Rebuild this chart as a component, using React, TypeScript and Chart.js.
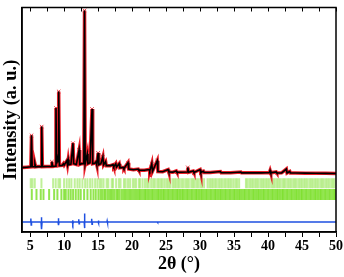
import React, { useEffect, useRef } from "react";
import { Chart, registerables } from "chart.js";

Chart.register(...registerables);

// ---------- data ----------
const xTickValues = [5, 7.5, 10, 12.5, 15, 17.5, 20, 22.5, 25, 27.5, 30, 32.5, 35, 37.5, 40, 42.5, 45, 47.5, 50];

const obsX = [
  3.8, 4.5, 5.1, 5.2, 5.3, 5.6, 5.7, 5.8, 6.2, 6.6, 6.7, 6.8, 7.5, 8.1, 8.2, 8.3, 8.7, 8.8, 8.9, 9.0, 9.1, 9.2, 9.3,
  9.7, 9.9, 10.0, 10.4, 10.5, 10.6, 10.7, 11.0, 11.3, 11.4, 11.8, 12.2, 12.3, 12.6, 12.9, 13.0, 13.1, 13.4, 13.5,
  13.8, 14.1, 14.2, 14.5, 14.7, 14.8, 15.0, 15.1, 15.4, 15.7, 15.8, 16.1, 16.2, 16.8, 17.2, 17.3, 17.6, 17.7, 18.1,
  18.2, 18.7, 18.8, 19.4, 19.5, 20.2, 20.9, 21.0, 21.8, 22.5, 22.6, 22.9, 23.0, 23.7, 23.8, 24.5, 25.3, 25.4, 26.0,
  26.5, 26.6, 27.3, 28.1, 28.2, 28.3, 29.0, 29.1, 30.0, 30.1, 30.5, 30.6, 31.5, 33.0, 33.1, 34.5, 36.0, 36.1, 37.5,
  39.0, 40.2, 40.3, 40.4, 41.2, 41.3, 42.0, 42.7, 42.8, 43.2, 43.3, 44.0, 45.5, 47.0, 48.5, 50.0,
];
const obsY = [
  660, 664, 668, 990, 668, 668, 700, 668, 670, 670, 1080, 670, 671, 672, 720, 672, 675, 1270, 700, 760, 720, 1440, 680,
  682, 700, 685, 730, 690, 740, 690, 695, 910, 700, 692, 840, 692, 700, 700, 2270, 700, 800, 700,
  710, 1260, 700, 705, 720, 690, 810, 690, 700, 770, 688, 720, 680, 680, 690, 670, 700, 665, 700,
  658, 662, 650, 710, 645, 638, 645, 632, 632, 640, 625, 700, 622, 730, 620, 618, 640, 615, 613,
  625, 612, 612, 615, 662, 612, 625, 610, 640, 610, 622, 609, 610, 620, 608, 607, 615, 606, 606,
  606, 610, 630, 606, 615, 605, 606, 645, 605, 620, 604, 605, 603, 602, 601, 600,
];
const calcY = obsY;

const diffX = [
  3.8, 5.05, 5.1, 5.15, 5.2, 6.6, 6.65, 6.7, 6.75, 9.1, 9.15, 9.2, 9.25, 11.2, 11.25, 11.3, 11.35, 12.1, 12.15, 12.2,
  12.25, 12.95, 12.98, 13.02, 13.06, 14.0, 14.05, 14.1, 14.15, 15.0, 15.03, 15.07, 15.1, 16.3, 16.33, 16.37, 16.4,
  23.7, 23.73, 23.77, 23.8, 50.0,
];
const diffY = [
  103, 103, 138, 72, 103, 103, 152, 30, 103, 103, 142, 70, 103, 103, 120, 82, 103, 103, 130, 84,
  103, 103, 190, 40, 103, 103, 136, 80, 103, 103, 118, 90, 103, 103, 113, 95, 103,
  103, 110, 97, 103, 103,
];

const phase1Ticks = [
  5.09, 5.34, 5.68, 6.66, 8.38, 8.76, 9.16, 9.41, 9.99, 10.38, 10.74, 11.07, 11.56, 11.96, 12.29, 12.69, 13.09,
  13.43, 13.82, 14.16, 14.56, 14.9, 15.24, 15.5, 15.8, 16.25, 16.5, 17.0, 17.2, 17.65, 18.05, 18.3, 18.8, 19.05,
  19.4, 19.7, 20.1, 20.35, 20.6, 21.0, 21.2, 21.55, 21.9, 22.2, 22.45, 22.8, 23.1, 23.35, 23.7, 23.95, 24.25, 24.5,
  24.8, 25.1, 25.35, 25.6, 25.95, 26.2, 26.45, 26.75, 27.0, 27.3, 27.55, 27.85, 28.1, 28.35, 28.7, 28.95, 29.2,
  29.5, 29.75, 30.05, 30.3, 30.6, 31.1, 31.4, 31.65, 31.9, 32.2, 32.45, 32.75, 33.0, 33.25, 33.55, 33.8, 34.1,
  34.35, 34.6, 34.9, 35.2, 35.45, 35.75, 36.75, 37.0, 37.3, 37.55, 37.8, 38.1, 38.35, 38.6, 38.9, 39.15, 39.4,
  39.7, 39.95, 40.2, 40.5, 40.75, 41.0, 41.3, 41.55, 41.8, 42.1, 42.35, 42.6, 42.9, 43.15, 43.4, 43.7, 43.95, 44.2,
  44.5, 44.75, 45.0, 45.3, 45.55, 45.8, 46.1, 46.35, 46.6, 46.9, 47.15, 47.4, 47.7, 47.95, 48.2, 48.5, 48.75, 49.0,
  49.3, 49.55, 49.8,
];
const phase2Ticks = [
  5.24, 5.93, 6.56, 6.96, 7.79, 8.53, 9.01, 9.6, 10.0, 10.24, 10.63, 10.97, 11.32, 11.71, 12.1, 12.44, 12.94, 13.43,
  13.91, 14.31, 14.65, 15.04, 15.35, 15.6, 15.9, 16.1, 16.4, 16.65, 16.9, 17.15, 17.4, 17.7, 17.9, 18.15, 18.45,
  18.7, 18.95, 19.2, 19.45, 19.7, 19.95, 20.2, 20.45, 20.7, 20.95, 21.15, 21.4, 21.65, 21.9, 22.1, 22.35, 22.6,
  22.85, 23.05, 23.3, 23.55, 23.8, 24.0, 24.25, 24.5, 24.7, 24.95, 25.2, 25.4, 25.65, 25.9, 26.1, 26.35, 26.6,
  26.8, 27.05, 27.3, 27.5, 27.75, 28.0, 28.2, 28.45, 28.7, 28.9, 29.15, 29.4, 29.6, 29.85, 30.1, 30.3, 30.55,
  30.8, 31.0, 31.25, 31.5, 31.7, 31.95, 32.2, 32.4, 32.65, 32.9, 33.1, 33.35, 33.6, 33.8, 34.05, 34.3, 34.5, 34.75,
  35.0, 35.2, 35.45, 35.7, 35.9, 36.15, 36.4, 36.6, 36.85, 37.1, 37.3, 37.55, 37.8, 38.0, 38.25, 38.5, 38.7,
  38.95, 39.2, 39.4, 39.65, 39.9, 40.1, 40.35, 40.6, 40.8, 41.05, 41.3, 41.5, 41.75, 42.0, 42.2, 42.45, 42.7,
  42.9, 43.15, 43.4, 43.6, 43.85, 44.1, 44.3, 44.55, 44.8, 45.0, 45.25, 45.5, 45.7, 45.95, 46.2, 46.4, 46.65,
  46.9, 47.1, 47.35, 47.6, 47.8, 48.05, 48.3, 48.5, 48.75, 49.0, 49.2, 49.45, 49.7, 49.9,
];
const phase1Level = 500;
const phase2Level = 385;

const FONT = "'Liberation Serif', 'Times New Roman', serif";

const framePlugin = {
  id: "frame",
  afterDatasetsDraw(chart: any) {
    const { ctx, chartArea } = chart;
    const xs = chart.scales.x;
    ctx.save();
    ctx.strokeStyle = "#000";
    ctx.lineWidth = 1.5;
    ctx.strokeRect(chartArea.left, chartArea.top, chartArea.right - chartArea.left, chartArea.bottom - chartArea.top);
    ctx.lineWidth = 1;
    for (const v of xTickValues) {
      const px = Math.round(xs.getPixelForValue(v)) + 0.5;
      ctx.beginPath();
      ctx.moveTo(px, chartArea.top);
      ctx.lineTo(px, chartArea.top + 4);
      ctx.stroke();
    }
    ctx.restore();
  },
};

// show a red cross only where the observed profile forms a clear peak
const peakRadius = (c: any) => {
  const i = c.dataIndex;
  const y = obsY[i];
  const l = i > 0 ? obsY[i - 1] : y;
  const r = i < obsY.length - 1 ? obsY[i + 1] : y;
  return y - l > 40 && y - r > 40 ? 2.5 : 0;
};

export default function App() {
  const ref = useRef<HTMLCanvasElement | null>(null);

  useEffect(() => {
    document.body.style.margin = "0";
    const canvas = ref.current;
    if (!canvas) return;
    const chart = new Chart(canvas, {
      type: "line",
      data: {
        datasets: [
          {
            label: "Calc",
            data: obsX.map((x, i) => ({ x, y: calcY[i] })),
            borderColor: "#000",
            borderWidth: 1.6,
            pointRadius: 0,
            order: 0,
          },
          {
            label: "Obs",
            data: obsX.map((x, i) => ({ x, y: obsY[i] })),
            borderColor: "rgb(235,30,40)",
            borderWidth: 3.5,
            pointStyle: "crossRot",
            pointRadius: peakRadius,
            pointBorderColor: "rgb(240,60,70)",
            pointBorderWidth: 1,
            order: 1,
          },
          {
            label: "Diff",
            data: diffX.map((x, i) => ({ x, y: diffY[i] })),
            borderColor: "rgb(30,80,225)",
            borderWidth: 1.5,
            pointRadius: 0,
            order: 2,
          },
          {
            label: "Phase 1",
            data: phase1Ticks.map((x) => ({ x, y: phase1Level })),
            showLine: false,
            pointStyle: "line",
            rotation: 90,
            pointRadius: 5,
            pointBorderWidth: 2,
            pointBorderColor: "rgba(140,228,70,0.55)",
            order: 3,
          },
          {
            label: "Phase 2",
            data: phase2Ticks.map((x) => ({ x, y: phase2Level })),
            showLine: false,
            pointStyle: "line",
            rotation: 90,
            pointRadius: 5.5,
            pointBorderWidth: 2,
            pointBorderColor: "rgba(110,220,20,0.75)",
            order: 4,
          },
        ] as any,
      },
      options: {
        responsive: false,
        animation: false,
        layout: { padding: { top: 2, right: 8, left: 0, bottom: 0 } },
        plugins: { legend: { display: false }, tooltip: { enabled: false } },
        scales: {
          x: {
            type: "linear",
            min: 3.8,
            max: 50,
            afterBuildTicks: (scale: any) => {
              scale.ticks = xTickValues.map((v) => ({ value: v }));
            },
            afterFit: (scale: any) => {
              scale.height = 45;
            },
            grid: {
              display: true,
              drawOnChartArea: false,
              drawTicks: true,
              tickLength: 5,
              color: "#000",
              lineWidth: 1,
            },
            border: { display: true, color: "#000", width: 1.5 },
            ticks: {
              autoSkip: false,
              maxRotation: 0,
              padding: 1,
              color: "#000",
              font: { family: FONT, size: 14, weight: "bold" },
              callback: (v: any) => (Number(v) % 5 === 0 ? String(v) : ""),
            },
            title: {
              display: true,
              text: "2θ (°)",
              color: "#000",
              font: { family: FONT, size: 18, weight: "bold" },
              padding: { top: 0, bottom: 2 },
            },
          },
          y: {
            type: "linear",
            min: 0,
            max: 2300,
            afterFit: (scale: any) => {
              scale.width = 22;
            },
            grid: { display: false, drawTicks: false },
            border: { display: true, color: "#000", width: 1.5 },
            ticks: { display: false },
            title: {
              display: true,
              text: "Intensity (a. u.)",
              color: "#000",
              font: { family: FONT, size: 18.5, weight: "bold" },
              padding: { top: 0, bottom: 0 },
            },
          },
        },
      } as any,
      plugins: [framePlugin],
    });
    return () => chart.destroy();
  }, []);

  return (
    <div style={{ width: 344, height: 277, background: "#fff" }}>
      <canvas ref={ref} width={344} height={277} style={{ display: "block" }} />
    </div>
  );
}
